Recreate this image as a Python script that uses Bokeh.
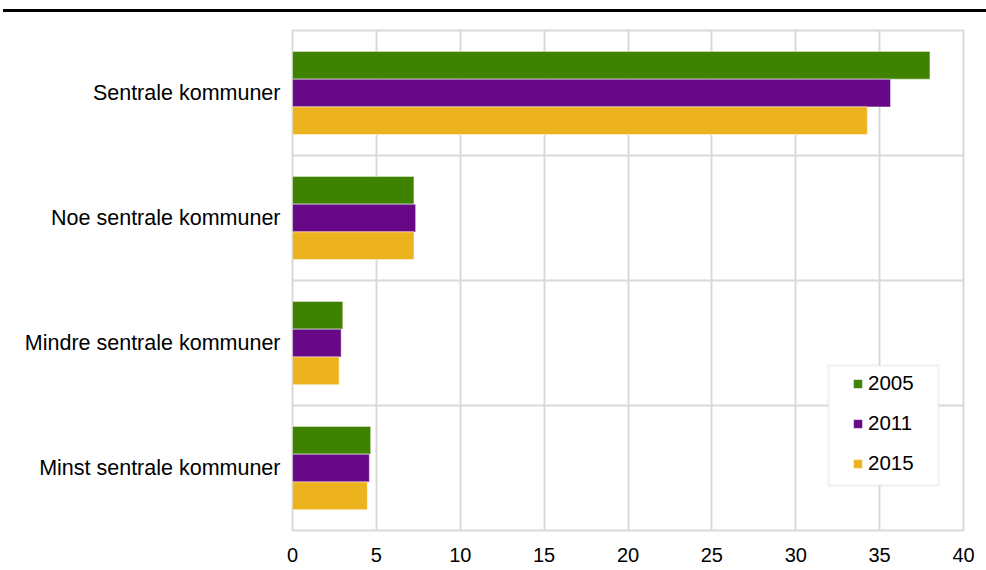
from bokeh.plotting import figure
from bokeh.models import (FactorRange, Legend, LegendItem, Span, BoxAnnotation,
                          Div, FixedTicker, ColumnDataSource, Range1d)
from bokeh.transform import dodge
from bokeh.layouts import column
from bokeh.embed import file_html
from bokeh.resources import INLINE

categories = ["Sentrale kommuner", "Noe sentrale kommuner",
              "Mindre sentrale kommuner", "Minst sentrale kommuner"]
years = ["2005", "2011", "2015"]
v2005 = [38.0, 7.24, 3.0, 4.66]
v2011 = [35.65, 7.34, 2.9, 4.58]
v2015 = [34.27, 7.24, 2.78, 4.46]
x_ticks = [0, 5, 10, 15, 20, 25, 30, 35, 40]

colors = ["#3f8200", "#670887", "#edb31f"]
FONT = "Liberation Sans"
GRID = "#d9d9d9"

source = ColumnDataSource(dict(cat=categories, y2005=v2005, y2011=v2011, y2015=v2015))

p = figure(width=986, height=556, output_backend="svg", toolbar_location=None,
           y_range=FactorRange(factors=categories[::-1]),
           x_range=Range1d(0, 40),
           min_border_left=292, min_border_right=23,
           min_border_top=18, min_border_bottom=38)

p.outline_line_color = GRID
p.outline_line_width = 2
p.background_fill_color = "white"
p.border_fill_color = "white"

bar_h = 0.222
renderers = []
for col, off, c in zip(["y2005", "y2011", "y2015"], [bar_h, 0.0, -bar_h], colors):
    r = p.hbar(y=dodge("cat", off, range=p.y_range), right=col, left=0,
               height=bar_h, source=source, fill_color=c,
               line_color="white", line_alpha=0.45, line_width=1)
    renderers.append(r)

# grids
p.xgrid.ticker = FixedTicker(ticks=x_ticks)
p.xgrid.grid_line_color = GRID
p.xgrid.grid_line_width = 2
p.ygrid.grid_line_color = None
for loc in [1, 2, 3]:
    p.add_layout(Span(location=loc, dimension="width", line_color=GRID,
                      line_width=2, level="underlay"))

# axes
p.xaxis.ticker = FixedTicker(ticks=x_ticks)
p.xaxis.axis_line_color = None
p.xaxis.major_tick_line_color = None
p.xaxis.minor_tick_line_color = None
p.xaxis.major_tick_out = 0
p.xaxis.major_tick_in = 0
p.xaxis.major_label_standoff = 17
p.xaxis.major_label_text_font = FONT
p.xaxis.major_label_text_font_size = "20px"
p.xaxis.major_label_text_color = "black"

p.yaxis.axis_line_color = None
p.yaxis.major_tick_line_color = None
p.yaxis.minor_tick_line_color = None
p.yaxis.major_tick_out = 0
p.yaxis.major_tick_in = 0
p.yaxis.major_label_standoff = 12
p.yaxis.major_label_text_font = FONT
p.yaxis.major_label_text_font_size = "21.5px"
p.yaxis.major_label_text_color = "black"

# legend frame
box = BoxAnnotation(left=31.95, right=38.51, bottom=0.36, top=1.32,
                    fill_color="white", fill_alpha=1.0,
                    line_color=GRID, line_width=3, level="annotation")
p.add_layout(box)

legend = Legend(items=[LegendItem(label=y, renderers=[r]) for y, r in zip(years, renderers)],
                location=(560, 55), margin=0, padding=0,
                border_line_alpha=0, background_fill_alpha=0,
                glyph_width=11, glyph_height=11, label_standoff=5,
                label_height=22, spacing=16,
                label_text_font=FONT, label_text_font_size="20.5px",
                label_text_color="black")
p.add_layout(legend, "center")

line = Div(width=983, height=3, margin=(9, 0, 0, 3), styles={"background-color": "black"})
layout = column(line, p, spacing=0)

open("out.html", "w").write(file_html(layout, INLINE))
